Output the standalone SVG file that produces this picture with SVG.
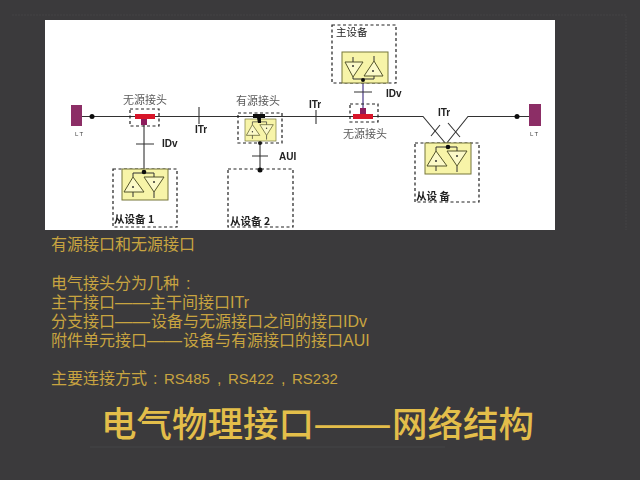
<svg xmlns="http://www.w3.org/2000/svg" width="640" height="480" viewBox="0 0 640 480">
<style>
.cjk{font-family:"Noto Sans CJK SC","Noto Sans",sans-serif}
.cap{font-family:"Liberation Sans","Noto Sans CJK SC",sans-serif}
.body{font-size:16px;fill:#c8a440}
.title{font-size:35.500px;font-weight:500;fill:#e3be4a}
.lab{font-size:11px;fill:#5a5a5a}
.dev{font-size:10.500px;font-weight:700;fill:#222}
.sig{font-family:"Liberation Sans",sans-serif;font-size:10px;font-weight:700;fill:#222}
.lt{font-family:"Liberation Sans",sans-serif;font-size:6px;fill:#444;letter-spacing:1.500px}
.dash{fill:none;stroke:#222;stroke-width:1.200;stroke-dasharray:3 2.500}
.yel{fill:#f7f4a8;stroke:#77773a;stroke-width:1}
.amp{fill:#fbf9c8;stroke:#55552a;stroke-width:1}
.w{fill:none;stroke:#333;stroke-width:1}
.wire{fill:none;stroke:#333;stroke-width:1.100}
.lt-box{fill:#8c2f66}
</style>
<defs>
<filter id="soft" x="0" y="0" width="1" height="1"><feGaussianBlur stdDeviation="0.350"/></filter>
<g id="unit">
<rect class="yel" x="0" y="0" width="46" height="31"/>
<polygon class="amp" points="11,8 2,23 22,23"/>
<polygon class="amp" points="22,8 42,8 32,23"/>
<circle cx="11" cy="18" r="1" fill="#333"/>
<circle cx="32" cy="13" r="1" fill="#333"/>
<path class="w" d="M11 8V4H32V8M11 23V28M32 23V29"/>
</g>
</defs>
<rect width="640" height="480" fill="#3b3a3c"/>
<path d="M12 15H626V230" fill="none" stroke="#444345" stroke-width="1" stroke-dasharray="2 1"/>
<path d="M90 447H445" fill="none" stroke="#454446" stroke-width="1"/>
<rect x="45" y="20" width="510" height="210" fill="#fff"/>

<g filter="url(#soft)">
<g id="connectors">
<path class="wire" d="M82 116.500H423L446 144L468 116.500H529"/>
<path class="wire" d="M144 125V173"/>
<path class="wire" d="M260 143V170"/>
<path d="M363 82V108" fill="none" stroke="#4a3a86" stroke-width="1.200"/>
<path class="wire" d="M199 107V124M136 144H154M252 156H268M354 92H372M316 110V124M431 136L440 125M448 123L460 137"/>
<circle cx="92" cy="116.500" r="2.500" fill="#111"/>
<circle cx="517" cy="116.500" r="2.500" fill="#111"/>
<circle cx="260" cy="143" r="2" fill="#111"/>
<circle cx="260" cy="170" r="2.500" fill="#111"/>
</g>

<g id="lt-left">
<rect class="lt-box" x="71" y="105" width="11" height="21"/>
<text class="lt" x="75" y="136">LT</text>
</g>
<g id="lt-right">
<rect class="lt-box" x="529" y="104" width="12" height="22"/>
<text class="lt" x="530" y="136">LT</text>
</g>

<g id="passive-left">
<rect class="dash" x="130" y="109" width="29" height="17"/>
<rect x="135" y="114" width="20" height="5" fill="#d8132b"/>
<rect x="141" y="119" width="6" height="6" fill="#8c1c5c"/>
<text class="cjk lab" x="145" y="104" text-anchor="middle">无源接头</text>
</g>

<g id="active">
<rect class="dash" x="238" y="113" width="44" height="30"/>
<g transform="translate(245 119) scale(.674 .71)"><use href="#unit"/></g>
<path d="M253 114H265V118H261V123L258 123L257 118H253Z" fill="#111"/>
<text class="cjk lab" x="258" y="105" text-anchor="middle">有源接头</text>
</g>

<g id="slave-1">
<rect class="dash" x="113" y="169" width="64" height="58"/>
<g transform="translate(122 169)"><use href="#unit"/></g>
<circle cx="144" cy="172" r="2.300" fill="#111"/>
<text class="cjk dev" x="114" y="223">从设备 1</text>
</g>

<g id="slave-2">
<rect class="dash" x="228" y="169" width="65" height="58"/>
<text class="cjk dev" x="230" y="225">从设备 2</text>
</g>

<g id="master">
<rect class="dash" x="332" y="25" width="64" height="58"/>
<rect class="yel" x="342" y="52" width="46" height="31"/>
<polygon class="amp" points="345,62 363,62 353,77"/>
<polygon class="amp" points="374,61 364,76 383,76"/>
<circle cx="353" cy="66" r="1" fill="#333"/>
<circle cx="373" cy="71" r="1" fill="#333"/>
<path class="w" d="M353 77V79H374V76M353 62V57M374 61V56"/>
<circle cx="363" cy="80" r="2" fill="#111"/>
<text class="cjk dev" x="336" y="36" style="font-weight:400">主设备</text>
</g>

<g id="passive-right">
<rect class="dash" x="350" y="104" width="28" height="18"/>
<rect x="353" y="114" width="20" height="5" fill="#d8132b"/>
<rect x="360" y="108" width="6" height="6" fill="#8c1c5c"/>
<text class="cjk lab" x="365" y="138" text-anchor="middle">无源接头</text>
</g>

<g id="slave-3">
<rect class="dash" x="415" y="143" width="64" height="59"/>
<g transform="translate(425 143)"><use href="#unit"/></g>
<circle cx="448" cy="147" r="2.300" fill="#111"/>
<text class="cjk dev" x="416" y="200">从设 备</text>
</g>

<g id="signal-labels">
<text class="sig" x="195" y="133">ITr</text>
<text class="sig" x="162" y="147">IDv</text>
<text class="sig" x="279" y="160">AUI</text>
<text class="sig" x="309" y="108">ITr</text>
<text class="sig" x="386" y="97">IDv</text>
<text class="sig" x="438" y="116">ITr</text>
</g>
</g>

<g id="caption">
<text class="cap body" x="51" y="250">有源接口和无源接口</text>
<text class="cap body" x="51" y="289">电气接头分为几种<tspan x="186">:</tspan></text>
<text class="cap body" x="51" y="308">主干接口<tspan x="115" textLength="35" lengthAdjust="spacingAndGlyphs">——</tspan><tspan x="150">主干间接口ITr</tspan></text>
<text class="cap body" x="51" y="327">分支接口<tspan x="115" textLength="35" lengthAdjust="spacingAndGlyphs">——</tspan><tspan x="151">设备与无源接口之间的接口IDv</tspan></text>
<text class="cap body" x="51" y="346">附件单元接口<tspan x="147" textLength="35" lengthAdjust="spacingAndGlyphs">——</tspan><tspan x="183">设备与有源接口的接口AUI</tspan></text>
<text class="cap body" x="51" y="384">主要连接方式<tspan x="153">:</tspan><tspan x="164" font-size="15">RS485</tspan><tspan x="217">,</tspan><tspan x="228" font-size="15">RS422</tspan><tspan x="281">,</tspan><tspan x="292" font-size="15">RS232</tspan></text>
</g>
<text class="cjk title" x="101" y="437">电气物理接口<tspan x="313" textLength="79" lengthAdjust="spacingAndGlyphs">——</tspan><tspan x="392">网络结构</tspan></text>
</svg>
